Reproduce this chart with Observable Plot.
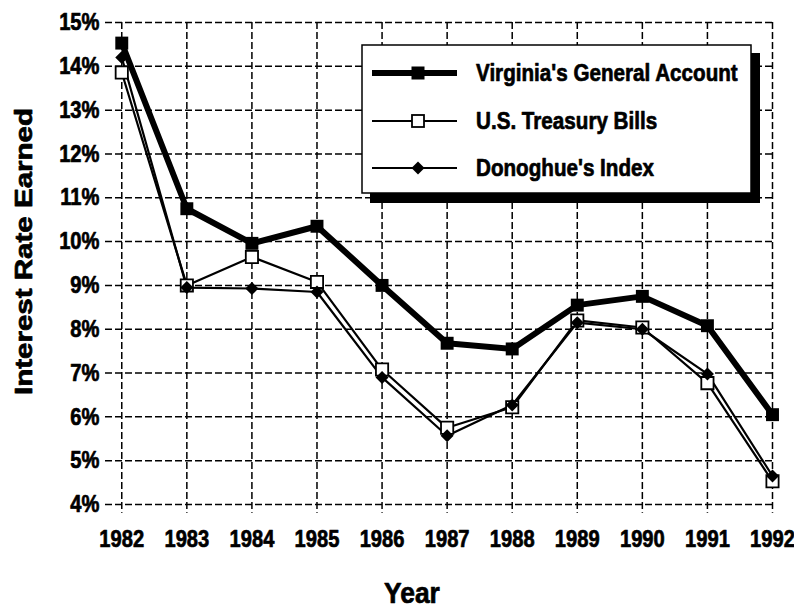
<!DOCTYPE html>
<html>
<head>
<meta charset="utf-8">
<script src="https://cdn.jsdelivr.net/npm/d3@7"></script>
<script src="https://cdn.jsdelivr.net/npm/@observablehq/plot@0.6"></script>
<style>
  html, body { margin: 0; padding: 0; background: #fff; }
  #chart { width: 794px; height: 609px; }
</style>
</head>
<body>
<div id="chart"></div>
<script>
// ---- data ----
const years = [1982, 1983, 1984, 1985, 1986, 1987, 1988, 1989, 1990, 1991, 1992];
const virginia = [14.53, 10.75, 9.96, 10.35, 9.0, 7.68, 7.55, 8.55, 8.75, 8.08, 6.05];
const tbills   = [13.86, 9.0, 9.65, 9.08, 7.08, 5.75, 6.22, 8.2, 8.04, 6.77, 4.53];
const donoghue = [14.2, 8.95, 8.93, 8.85, 6.9, 5.57, 6.27, 8.15, 8.0, 6.98, 4.65];
const yTicks = [4, 5, 6, 7, 8, 9, 10, 11, 12, 13, 14, 15];
const seriesNames = ["Virginia's General Account", "U.S. Treasury Bills", "Donoghue's Index"];
const xTitle = "Year";
const yTitle = "Interest Rate Earned";

const rows = (vals, name) => years.map((y, i) => ({year: y, value: vals[i], series: name}));
const dV = rows(virginia, seriesNames[0]);
const dT = rows(tbills, seriesNames[1]);
const dD = rows(donoghue, seriesNames[2]);

const diamond = {
  draw(ctx, size) {
    const h = Math.sqrt(size / 2);
    ctx.moveTo(0, -h); ctx.lineTo(h, 0); ctx.lineTo(0, h); ctx.lineTo(-h, 0); ctx.closePath();
  }
};

const FONT = "'Liberation Sans', Arial, Helvetica, sans-serif";
const dash = "7,3";

const chart = Plot.plot({
  width: 794,
  height: 609,
  marginLeft: 105,
  marginRight: 22,
  marginTop: 22,
  marginBottom: 105,
  x: {domain: [1981.75, 1992], axis: null},
  y: {domain: [4, 15], axis: null},
  style: {background: "#fff", color: "#000", overflow: "visible"},
  marks: [
    Plot.ruleY(yTicks, {stroke: "#000", strokeWidth: 1.5, strokeDasharray: dash}),
    Plot.ruleX(years, {y1: 15, y2: 3.8, stroke: "#000", strokeWidth: 1.5, strokeDasharray: dash}),
    Plot.axisY(yTicks, {
      anchor: "left", tickSize: 0, tickPadding: 6, label: null,
      tickFormat: d => d + "%",
      fontFamily: FONT, fontWeight: "bold", fontSize: 24, fill: "#000"
    }),
    Plot.axisX(years, {
      anchor: "bottom", tickSize: 0, tickPadding: 25, label: null,
      tickFormat: d => String(d),
      fontFamily: FONT, fontWeight: "bold", fontSize: 24, fill: "#000"
    }),
    Plot.line(dT, {x: "year", y: "value", stroke: "#000", strokeWidth: 2.2}),
    Plot.line(dD, {x: "year", y: "value", stroke: "#000", strokeWidth: 2.2}),
    Plot.dot(dT, {x: "year", y: "value", symbol: "square", r: 6.9, fill: "#fff", stroke: "#000", strokeWidth: 1.8}),
    Plot.dot(dD, {x: "year", y: "value", symbol: diamond, r: 5.2, fill: "#000", stroke: "none"}),
    Plot.line(dV, {x: "year", y: "value", stroke: "#000", strokeWidth: 6}),
    Plot.dot(dV, {x: "year", y: "value", symbol: "square", r: 7.3, fill: "#000", stroke: "none"}),
    Plot.text([yTitle], {
      frameAnchor: "left", rotate: -90, dx: -81, dy: -12,
      fontFamily: FONT, fontWeight: "bold", fontSize: 24, fill: "#000",
      textAnchor: "middle", lineAnchor: "middle"
    }),
    Plot.text([xTitle], {
      frameAnchor: "bottom", dx: -27, dy: 89,
      fontFamily: FONT, fontWeight: "bold", fontSize: 30, fill: "#000",
      textAnchor: "middle", lineAnchor: "middle"
    })
  ]
});

document.getElementById("chart").appendChild(chart);

// horizontal squeeze/stretch of a text element about its anchor, plus heavier weight
function scaleText(el, s) {
  const t = el.getAttribute("transform") || "";
  el.setAttribute("transform", `${t} scale(${s},1)`);
  el.setAttribute("stroke", "#000");
  el.setAttribute("stroke-width", "0.7");
  el.setAttribute("stroke-linejoin", "round");
}

d3.select(chart).selectAll("text").each(function() {
  const txt = this.textContent;
  if (txt === yTitle) scaleText(this, 1.23);
  else if (txt === xTitle) scaleText(this, 0.88);
  else scaleText(this, 0.84);
});

// ---- legend (chrome) ----
const svg = d3.select(chart);
const lg = svg.append("g");
lg.append("rect").attr("x", 370).attr("y", 53).attr("width", 390).attr("height", 150).attr("fill", "#000");
lg.append("rect").attr("x", 362).attr("y", 45).attr("width", 389).attr("height", 148)
  .attr("fill", "#fff").attr("stroke", "#000").attr("stroke-width", 1.5);
const legendRows = [
  {name: seriesNames[0], y: 73, sw: 6, kind: "filledSquare"},
  {name: seriesNames[1], y: 121, sw: 2.2, kind: "openSquare"},
  {name: seriesNames[2], y: 168, sw: 2.2, kind: "diamond"}
];
legendRows.forEach(r => {
  lg.append("line").attr("x1", 372).attr("x2", 457).attr("y1", r.y).attr("y2", r.y)
    .attr("stroke", "#000").attr("stroke-width", r.sw);
  if (r.kind === "filledSquare") {
    lg.append("rect").attr("x", 418 - 6.5).attr("y", r.y - 6.5).attr("width", 13).attr("height", 13).attr("fill", "#000");
  } else if (r.kind === "openSquare") {
    lg.append("rect").attr("x", 418 - 6).attr("y", r.y - 6).attr("width", 12).attr("height", 12)
      .attr("fill", "#fff").attr("stroke", "#000").attr("stroke-width", 1.8);
  } else {
    lg.append("path").attr("d", `M418,${r.y - 6.5}L${418 + 6.5},${r.y}L418,${r.y + 6.5}L${418 - 6.5},${r.y}Z`).attr("fill", "#000");
  }
  lg.append("text")
    .attr("transform", `translate(476,${r.y}) scale(0.86,1)`)
    .attr("dy", "0.35em")
    .attr("text-anchor", "start")
    .attr("font-family", FONT).attr("font-weight", "bold").attr("font-size", 24).attr("fill", "#000")
    .attr("stroke", "#000").attr("stroke-width", 0.7).attr("stroke-linejoin", "round")
    .text(r.name);
});
</script>
</body>
</html>
